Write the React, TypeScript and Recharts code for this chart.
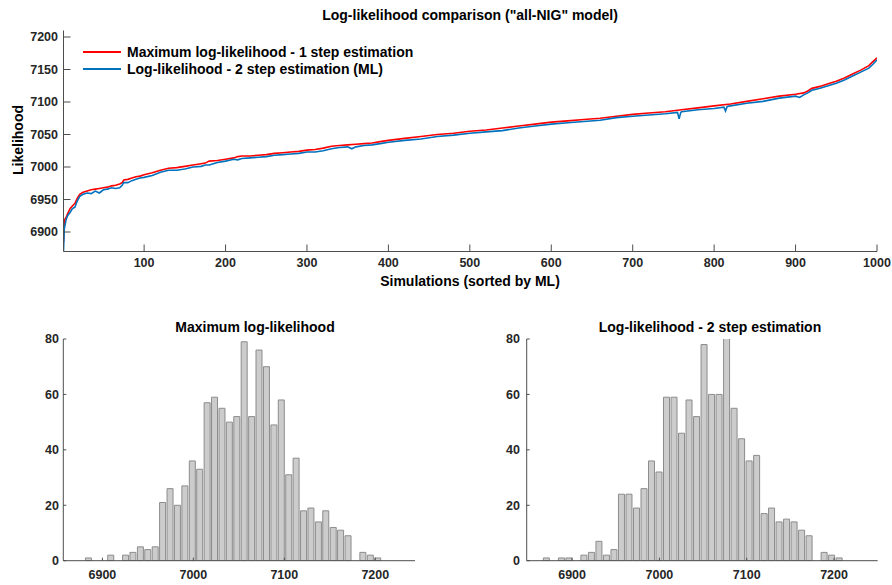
import React from 'react'
import { LineChart, Line, BarChart, Bar, XAxis, YAxis } from 'recharts'

// Top panel: log-likelihood per simulation, sorted by ML value
const mlX = [
  1, 2, 4, 6, 9, 12, 15, 18, 21, 25, 30, 35, 40, 45, 50, 55, 60, 65, 70, 73, 75, 80, 85, 90, 95, 100,
  110, 120, 130, 140, 150, 160, 170, 175, 180, 190, 200, 210, 215, 220, 230, 240, 250, 260, 270,
  280, 290, 300, 310, 320, 330, 340, 350, 360, 370, 380, 390, 400, 420, 440, 460, 480, 500, 520,
  540, 560, 580, 600, 620, 640, 660, 680, 700, 720, 740, 760, 780, 800, 820, 840, 860, 880, 900,
  910, 915, 920, 930, 940, 950, 960, 970, 980, 990, 995, 1000,
]
const mlY = [
  6885, 6918, 6922, 6928, 6936, 6940, 6944, 6952, 6958, 6961, 6963, 6965, 6966, 6967, 6968, 6969,
  6971, 6972, 6974, 6976, 6980, 6981, 6983, 6985, 6986, 6988, 6991, 6995, 6998, 6999, 7001, 7003,
  7005, 7006, 7009, 7010, 7012, 7014, 7016, 7017, 7017, 7018, 7019, 7021, 7022, 7023, 7024, 7026,
  7027, 7029, 7032, 7033, 7034, 7035, 7036, 7037, 7039, 7041, 7044, 7047, 7050, 7052, 7055, 7057,
  7060, 7063, 7066, 7069, 7071, 7073, 7075, 7078, 7081, 7083, 7085, 7088, 7091, 7094, 7097, 7101,
  7105, 7109, 7112, 7114, 7117, 7121, 7124, 7128, 7132, 7137, 7143, 7149, 7156, 7162, 7168,
]

const twoStepX = [
  1, 2, 4, 6, 9, 12, 15, 18, 21, 25, 30, 35, 40, 45, 50, 55, 60, 65, 70, 73, 75, 80, 85, 90, 95, 100,
  110, 120, 130, 140, 150, 160, 170, 175, 180, 190, 200, 210, 215, 220, 230, 240, 250, 260, 270,
  280, 290, 300, 310, 320, 330, 340, 350, 355, 360, 370, 380, 390, 400, 420, 440, 460, 480, 500,
  520, 540, 560, 580, 600, 620, 640, 660, 680, 700, 720, 740, 755, 757, 759, 760, 780, 800, 812,
  814, 816, 820, 840, 860, 880, 900, 905, 910, 915, 920, 930, 940, 950, 960, 970, 980, 990, 995,
  1000,
]
const twoStepY = [
  6870, 6905, 6918, 6925, 6930, 6936, 6938, 6948, 6955, 6958, 6960, 6959, 6963, 6960, 6965, 6966,
  6968, 6967, 6968, 6972, 6976, 6976, 6979, 6981, 6983, 6984, 6987, 6992, 6995, 6995, 6997, 7000,
  7001, 7003, 7003, 7007, 7009, 7012, 7011, 7013, 7014, 7015, 7016, 7018, 7019, 7020, 7021, 7023,
  7023, 7025, 7028, 7030, 7031, 7028, 7031, 7033, 7034, 7036, 7038, 7041, 7043, 7047, 7049, 7052,
  7054, 7056, 7060, 7063, 7066, 7068, 7070, 7072, 7076, 7078, 7080, 7082, 7084, 7074, 7084, 7085,
  7088, 7090, 7092, 7086, 7093, 7094, 7098, 7101, 7106, 7109, 7107, 7111, 7114, 7118, 7121, 7125,
  7129, 7134, 7140, 7146, 7152, 7158, 7165,
]

const topXTicks = [100, 200, 300, 400, 500, 600, 700, 800, 900, 1000]
const topYTicks = [6900, 6950, 7000, 7050, 7100, 7150, 7200]

// Bottom panels: histograms (bin centres and counts)
const mlBins = [
  6884.6, 6892.8, 6900.9, 6909.1, 6917.2, 6925.4, 6933.5, 6941.7, 6949.8, 6958.0,
  6966.1, 6974.3, 6982.4, 6990.6, 6998.8, 7006.9, 7015.1, 7023.2, 7031.4, 7039.5,
  7047.7, 7055.8, 7064.0, 7072.1, 7080.3, 7088.5, 7096.6, 7104.8, 7112.9, 7121.1,
  7129.2, 7137.4, 7145.5, 7153.7, 7161.8, 7170.0, 7178.1, 7186.3, 7194.5, 7202.6,
]
const mlCounts = [
  1, 0, 0, 2, 0, 2, 3, 5, 4, 5, 21, 26, 20, 27, 36, 33, 57, 59, 55, 50,
  52, 79, 52, 76, 70, 49, 58, 31, 37, 18, 19, 14, 18, 12, 11, 9, 0, 3, 2, 1,
]

const twoStepBins = [
  6870.5, 6879.1, 6887.7, 6896.3, 6904.9, 6913.5, 6922.1, 6930.7, 6939.3, 6947.9,
  6956.5, 6965.1, 6973.7, 6982.3, 6990.9, 6999.5, 7008.1, 7016.7, 7025.3, 7033.9,
  7042.5, 7051.1, 7059.7, 7068.3, 7076.9, 7085.5, 7094.1, 7102.7, 7111.3, 7119.9,
  7128.4, 7137.0, 7145.6, 7154.2, 7162.8, 7171.4, 7180.0, 7188.6, 7197.2, 7205.8,
]
const twoStepCounts = [
  1, 0, 1, 1, 0, 2, 3, 7, 2, 4, 24, 24, 19, 26, 36, 32, 59, 59, 46, 58,
  52, 78, 60, 60, 81, 55, 44, 36, 38, 17, 19, 14, 15, 14, 11, 9, 0, 3, 2, 1,
]

const histXTicks = [6900, 7000, 7100, 7200]
const histYTicks = [0, 20, 40, 60, 80]

const FONT = '"Liberation Sans", Arial, Helvetica, sans-serif'
const AXIS = '#4d4d4d'
const TEXT = '#262626'
const RED = '#ff0000'
const BLUE = '#0072bd'

const tickStyle = { fontSize: 12.5, fontWeight: 700, fill: TEXT, fontFamily: FONT }

const toPoints = (xs: number[], ys: number[]) => xs.map((x, i) => ({ x, y: ys[i] }))
const toBins = (xs: number[], cs: number[]) => xs.map((x, i) => ({ x, count: cs[i] }))

const legendItems = [
  { label: 'Maximum log-likelihood - 1 step estimation', color: RED },
  { label: 'Log-likelihood - 2 step estimation (ML)', color: BLUE },
]

const textBase: React.CSSProperties = {
  position: 'absolute',
  fontFamily: FONT,
  fontWeight: 700,
  color: '#000',
  whiteSpace: 'nowrap',
  lineHeight: 1,
}

// legend drawn as an overlay so it doesn't eat into the plot area
function TopLegend() {
  return (
    <div
      style={{
        position: 'absolute',
        left: 83,
        top: 43,
        fontFamily: FONT,
        fontWeight: 700,
        fontSize: 14,
        color: '#000',
      }}
    >
      {legendItems.map((it) => (
        <div key={it.label} style={{ display: 'flex', alignItems: 'center', height: 17.5 }}>
          <svg width={39} height={4} style={{ marginRight: 5 }}>
            <line x1={0} y1={2} x2={38} y2={2} stroke={it.color} strokeWidth={2} />
          </svg>
          <span>{it.label}</span>
        </div>
      ))}
    </div>
  )
}

function Histogram({
  bins,
  counts,
  domain,
  yWidth,
  right,
}: {
  bins: number[]
  counts: number[]
  domain: [number, number]
  yWidth: number
  right: number
}) {
  return (
    <BarChart
      width={yWidth + right + 1}
      height={285}
      data={toBins(bins, counts)}
      margin={{ top: 39, right: 0, bottom: 0, left: 0 }}
      barCategoryGap="10%"
    >
      <XAxis
        dataKey="x"
        type="number"
        domain={domain}
        ticks={histXTicks}
        allowDataOverflow
        height={24.3}
        tick={tickStyle}
        tickSize={-3}
        tickMargin={12}
        axisLine={{ stroke: AXIS }}
        tickLine={{ stroke: AXIS }}
      />
      <YAxis
        type="number"
        domain={[0, 80]}
        ticks={histYTicks}
        allowDataOverflow
        width={yWidth}
        tick={tickStyle}
        tickSize={-3}
        tickMargin={yWidth > 70 ? 9.7 : 7.3}
        axisLine={{ stroke: AXIS }}
        tickLine={{ stroke: AXIS }}
      />
      <Bar dataKey="count" fill="#cccccc" stroke="#8c8c8c" strokeWidth={1} isAnimationActive={false} />
    </BarChart>
  )
}

export default function App() {
  return (
    <div
      style={{
        position: 'absolute',
        left: 0,
        top: 0,
        width: 892,
        height: 585,
        background: '#fff',
        overflow: 'hidden',
      }}
    >
      <div style={{ position: 'absolute', left: 0, top: 0 }}>
        <LineChart width={892} height={292} margin={{ top: 30.5, right: 15, bottom: 0, left: 0 }}>
          <XAxis
            dataKey="x"
            type="number"
            domain={[1, 1000]}
            ticks={topXTicks}
            allowDataOverflow
            height={40.5}
            tick={tickStyle}
            tickSize={-7}
            tickMargin={14}
            axisLine={{ stroke: AXIS }}
            tickLine={{ stroke: AXIS }}
          />
          <YAxis
            type="number"
            domain={[6870, 7210]}
            ticks={topYTicks}
            allowDataOverflow
            width={63.5}
            tick={tickStyle}
            tickSize={-7}
            tickMargin={12.5}
            axisLine={{ stroke: AXIS }}
            tickLine={{ stroke: AXIS }}
          />
          <Line
            data={toPoints(mlX, mlY)}
            dataKey="y"
            type="linear"
            stroke={RED}
            strokeWidth={1.6}
            dot={false}
            isAnimationActive={false}
          />
          <Line
            data={toPoints(twoStepX, twoStepY)}
            dataKey="y"
            type="linear"
            stroke={BLUE}
            strokeWidth={1.6}
            dot={false}
            isAnimationActive={false}
          />
        </LineChart>
      </div>

      <TopLegend />

      <div style={{ ...textBase, fontSize: 14, top: 8, left: 470, transform: 'translateX(-50%)' }}>
        Log-likelihood comparison ("all-NIG" model)
      </div>
      <div style={{ ...textBase, fontSize: 14, top: 274, left: 470, transform: 'translateX(-50%)' }}>
        Simulations (sorted by ML)
      </div>
      <div
        style={{
          ...textBase,
          fontSize: 14,
          top: 140,
          left: 18,
          transform: 'translate(-50%, -50%) rotate(-90deg)',
        }}
      >
        Likelihood
      </div>

      <div style={{ ...textBase, fontSize: 14, top: 320, left: 255, transform: 'translateX(-50%)' }}>
        Maximum log-likelihood
      </div>
      <div style={{ ...textBase, fontSize: 14, top: 320, left: 710, transform: 'translateX(-50%)' }}>
        Log-likelihood - 2 step estimation
      </div>

      <div style={{ position: 'absolute', left: 0, top: 300 }}>
        <Histogram bins={mlBins} counts={mlCounts} domain={[6857, 7244]} yWidth={63.3} right={351} />
      </div>
      <div style={{ position: 'absolute', left: 450, top: 300 }}>
        <Histogram
          bins={twoStepBins}
          counts={twoStepCounts}
          domain={[6848, 7250]}
          yWidth={76.7}
          right={350}
        />
      </div>
    </div>
  )
}
